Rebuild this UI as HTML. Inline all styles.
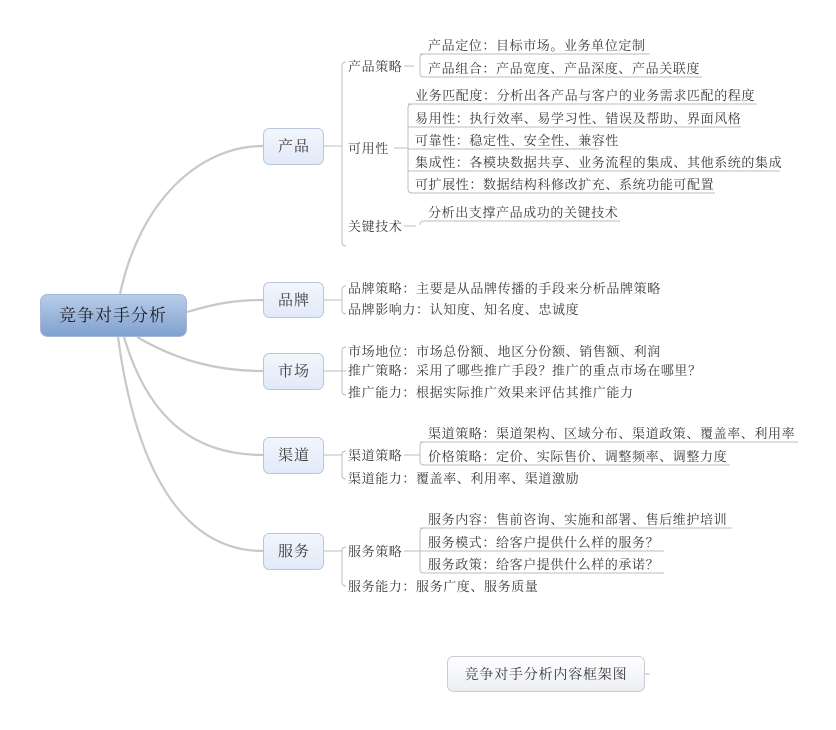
<!DOCTYPE html>
<html><head><meta charset="utf-8"><style>
html,body{margin:0;padding:0;background:#fff;}
svg{display:block;}
text{font-family:"Liberation Serif","Noto Serif CJK SC",serif;fill:#3a3a3a;}
.l{font-size:13px;letter-spacing:0.6px;}
.b{font-size:15px;letter-spacing:1px;}
</style></head><body>
<svg width="836" height="730" viewBox="0 0 836 730" xmlns="http://www.w3.org/2000/svg">
<defs>
<linearGradient id="rg" x1="0" y1="0" x2="0" y2="1"><stop offset="0" stop-color="#b9cde9"/><stop offset="1" stop-color="#7fa0d0"/></linearGradient>
<linearGradient id="bg" x1="0" y1="0" x2="0" y2="1"><stop offset="0" stop-color="#f2f6fd"/><stop offset="1" stop-color="#e1eaf8"/></linearGradient>
<linearGradient id="cg" x1="0" y1="0" x2="0" y2="1"><stop offset="0" stop-color="#ffffff"/><stop offset="1" stop-color="#eceef2"/></linearGradient>
</defs>
<g fill="none" stroke="#c8c8c8" stroke-width="2.2">
<path d="M120,294 C140,200 200,146 263,146"/>
<path d="M187,312 C220,302 240,300 263,300"/>
<path d="M137,337 C180,362 220,371 263,371"/>
<path d="M124,337 C150,425 200,455 263,455"/>
<path d="M118,337 C140,500 200,551 263,551"/>
</g>
<g fill="none" stroke="#bdbdbd" stroke-width="1">
<path d="M324,146 H342"/>
<path d="M346,62 Q342,62 342,66 V242 Q342,246 346,246"/>
<path d="M404,66 H414"/><path d="M424,54 Q420,54 420,58 V73 Q420,77 424,77 H702"/><path d="M420,54 H650"/>
<path d="M394,148 H408"/><path d="M412,104 Q408,104 408,108 V189 Q408,193 412,193 H715"/>
<path d="M408,104 H757"/><path d="M408,127 H741"/><path d="M408,149 H599"/><path d="M408,171 H780"/>
<path d="M404,226 H416"/><path d="M424,221 Q420,221 420,225"/><path d="M424,221 H620"/>
<path d="M324,300 H342"/><path d="M346,286 Q342,286 342,290 V310 Q342,314 346,314"/>
<path d="M324,371 H346"/><path d="M346,347 Q342,347 342,351 V391 Q342,395 346,395"/>
<path d="M324,455 H342"/><path d="M346,451 Q342,451 342,455 V475 Q342,479 346,479"/>
<path d="M404,455 H420"/><path d="M424,442 Q420,442 420,446 V461 Q420,465 424,465 H730"/><path d="M420,442 H798"/>
<path d="M324,551 H342"/><path d="M346,547 Q342,547 342,551 V582 Q342,586 346,586"/>
<path d="M404,551 H420"/><path d="M424,528 Q420,528 420,532 V569 Q420,573 424,573 H664"/><path d="M420,528 H732"/><path d="M420,551 H664"/>
<path d="M645,674 H650"/>
</g>
<rect x="40.5" y="294.5" width="146" height="42" rx="7" fill="url(#rg)" stroke="#a8b8d4"/>
<text x="113" y="321" text-anchor="middle" style="font-size:17px;letter-spacing:1px;fill:#222">竞争对手分析</text>
<g fill="url(#bg)" stroke="#b8c6dc">
<rect x="263.5" y="128.5" width="60" height="36" rx="6"/>
<rect x="263.5" y="282.5" width="60" height="35" rx="6"/>
<rect x="263.5" y="353.5" width="60" height="36" rx="6"/>
<rect x="263.5" y="437.5" width="60" height="36" rx="6"/>
<rect x="263.5" y="533.5" width="60" height="36" rx="6"/>
</g>
<g class="b" text-anchor="middle">
<text x="294" y="151">产品</text>
<text x="294" y="305">品牌</text>
<text x="294" y="376">市场</text>
<text x="294" y="460">渠道</text>
<text x="294" y="556">服务</text>
</g>
<g class="l">
<text x="348" y="71">产品策略</text>
<text x="428" y="50">产品定位：目标市场。业务单位定制</text>
<text x="428" y="73">产品组合：产品宽度、产品深度、产品关联度</text>
<text x="348" y="153">可用性</text>
<text x="415" y="100">业务匹配度：分析出各产品与客户的业务需求匹配的程度</text>
<text x="415" y="123">易用性：执行效率、易学习性、错误及帮助、界面风格</text>
<text x="415" y="145">可靠性：稳定性、安全性、兼容性</text>
<text x="415" y="167">集成性：各模块数据共享、业务流程的集成、其他系统的集成</text>
<text x="415" y="189">可扩展性：数据结构科修改扩充、系统功能可配置</text>
<text x="348" y="231">关键技术</text>
<text x="428" y="217">分析出支撑产品成功的关键技术</text>
<text x="348" y="293">品牌策略：主要是从品牌传播的手段来分析品牌策略</text>
<text x="348" y="314">品牌影响力：认知度、知名度、忠诚度</text>
<text x="348" y="356">市场地位：市场总份额、地区分份额、销售额、利润</text>
<text x="348" y="375">推广策略：采用了哪些推广手段？推广的重点市场在哪里？</text>
<text x="348" y="397">推广能力：根据实际推广效果来评估其推广能力</text>
<text x="348" y="460">渠道策略</text>
<text x="428" y="438">渠道策略：渠道架构、区域分布、渠道政策、覆盖率、利用率</text>
<text x="428" y="461">价格策略：定价、实际售价、调整频率、调整力度</text>
<text x="348" y="483">渠道能力：覆盖率、利用率、渠道激励</text>
<text x="348" y="556">服务策略</text>
<text x="428" y="524">服务内容：售前咨询、实施和部署、售后维护培训</text>
<text x="428" y="547">服务模式：给客户提供什么样的服务？</text>
<text x="428" y="569">服务政策：给客户提供什么样的承诺？</text>
<text x="348" y="591">服务能力：服务广度、服务质量</text>
</g>
<rect x="447.5" y="656.5" width="197" height="35" rx="6" fill="url(#cg)" stroke="#c8ccd4"/>
<text x="546" y="679" text-anchor="middle" style="font-size:14px;letter-spacing:0.8px">竞争对手分析内容框架图</text>
</svg>
</body></html>
